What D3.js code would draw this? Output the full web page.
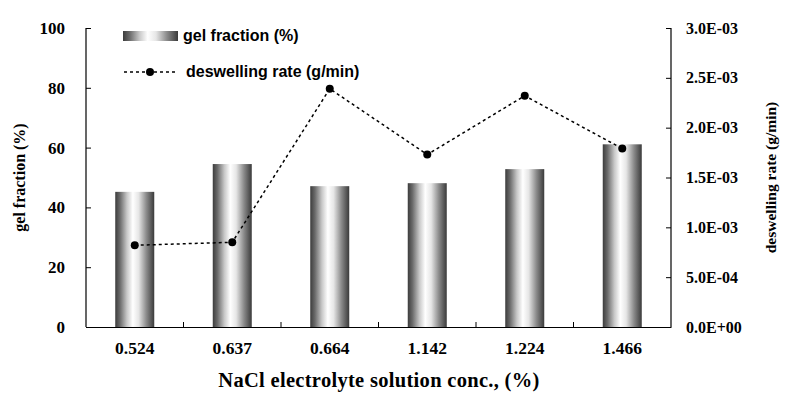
<!DOCTYPE html>
<html>
<head>
<meta charset="utf-8">
<script src="https://cdn.jsdelivr.net/npm/d3@7"></script>
<style>
  body { margin: 0; background: #fff; }
  svg text { fill: #000; }
</style>
</head>
<body>
<div id="chart"></div>
<script>
// data
const concentrations = ["0.524", "0.637", "0.664", "1.142", "1.224", "1.466"];
const gelFraction = [45.2, 54.5, 47.1, 48.1, 52.8, 61.1];
const deswellingRate = [0.00082, 0.00085, 0.00239, 0.00173, 0.00232, 0.00179];
const leftTicks = [0, 20, 40, 60, 80, 100];
const rightTicks = [0, 0.0005, 0.001, 0.0015, 0.002, 0.0025, 0.003];

const width = 807, height = 403;
const margin = { left: 86, right: 136, top: 28, bottom: 76 };
const serif = "'Liberation Serif', 'Times New Roman', serif";
const sans = "'Liberation Sans', Arial, sans-serif";

const svg = d3.select("#chart")
  .append("svg")
  .attr("width", width)
  .attr("height", height);

// Echelles
const xScale = d3.scaleBand()
  .domain(concentrations)
  .range([margin.left, width - margin.right]);

const yLeft = d3.scaleLinear()
  .domain([0, 100])
  .range([height - margin.bottom, margin.top]);

const yRight = d3.scaleLinear()
  .domain([0, 0.003])
  .range([height - margin.bottom, margin.top]);

// gradient des barres
const grad = svg.append("defs").append("linearGradient")
  .attr("id", "barGrad")
  .attr("x1", "0%").attr("x2", "100%")
  .attr("y1", "0%").attr("y2", "0%");
[[0, "#3c3c3c"], [0.12, "#6a6a6a"], [0.3, "#c8c8c8"], [0.45, "#ffffff"], [0.6, "#e6e6e6"], [0.8, "#8a8a8a"], [1, "#3a3a3a"]]
  .forEach(([o, c]) => grad.append("stop").attr("offset", o).attr("stop-color", c));

// Barres
const barW = 39;
svg.selectAll("rect.bar")
  .data(gelFraction)
  .enter().append("rect")
  .attr("class", "bar")
  .attr("x", (d, i) => xScale(concentrations[i]) + xScale.bandwidth() / 2 - barW / 2)
  .attr("y", d => yLeft(d))
  .attr("width", barW)
  .attr("height", d => yLeft(0) - yLeft(d))
  .attr("fill", "url(#barGrad)");

// Axes
const leftAxis = svg.append("g")
  .attr("transform", `translate(${margin.left},0)`)
  .call(d3.axisLeft(yLeft).tickValues(leftTicks).tickSize(-5).tickPadding(21));

const rightAxis = svg.append("g")
  .attr("transform", `translate(${width - margin.right},0)`)
  .call(d3.axisRight(yRight).tickValues(rightTicks).tickSize(-5).tickPadding(15)
    .tickFormat(d => {
      const [m, e] = d.toExponential(1).split("e");
      const n = Math.abs(+e);
      return m + "E" + (+e < 0 ? "-" : "+") + (n < 10 ? "0" : "") + n;
    }));

const bottomAxis = svg.append("g")
  .attr("transform", `translate(0,${height - margin.bottom})`)
  .call(d3.axisBottom(xScale).tickSize(0).tickPadding(15));

// petits traits entre les catégories
svg.append("g").selectAll("line")
  .data(concentrations.slice(1))
  .enter().append("line")
  .attr("x1", d => xScale(d)).attr("x2", d => xScale(d))
  .attr("y1", yLeft(0)).attr("y2", yLeft(0) - 5)
  .attr("stroke", "#000");

[leftAxis, rightAxis, bottomAxis].forEach(g => {
  g.select(".domain").attr("stroke", "#000").attr("stroke-width", 1.2);
  g.selectAll(".tick line").attr("stroke", "#000");
  g.selectAll("text")
    .style("font-family", serif)
    .style("font-weight", "bold")
    .attr("fill", "#000");
});
leftAxis.select(".domain").attr("d", `M0,${margin.top}V${yLeft(0)}`);
rightAxis.select(".domain").attr("d", `M0,${margin.top}V${yLeft(0)}`);
leftAxis.selectAll("text").style("font-size", "17px");
rightAxis.selectAll("text").style("font-size", "16px");
bottomAxis.selectAll("text").style("font-size", "17.5px");

// Ligne du taux de dégonflement
const line = d3.line()
  .x((d, i) => xScale(concentrations[i]) + xScale.bandwidth() / 2)
  .y(d => yRight(d));

svg.append("path")
  .datum(deswellingRate)
  .attr("d", line)
  .attr("fill", "none")
  .attr("stroke", "#000")
  .attr("stroke-width", 1.5)
  .attr("stroke-dasharray", "3,3");

svg.selectAll("circle.pt")
  .data(deswellingRate)
  .enter().append("circle")
  .attr("class", "pt")
  .attr("cx", (d, i) => xScale(concentrations[i]) + xScale.bandwidth() / 2)
  .attr("cy", d => yRight(d))
  .attr("r", 4)
  .attr("fill", "#000");

// Légendes des axes
svg.append("text")
  .attr("transform", "rotate(-90)")
  .attr("x", -(margin.top + yLeft(0)) / 2)
  .attr("y", 25)
  .attr("text-anchor", "middle")
  .style("font-family", serif)
  .style("font-weight", "bold")
  .style("font-size", "16px")
  .text("gel fraction (%)");

svg.append("text")
  .attr("transform", "rotate(-90)")
  .attr("x", -(margin.top + yLeft(0)) / 2)
  .attr("y", 776)
  .attr("text-anchor", "middle")
  .style("font-family", serif)
  .style("font-weight", "bold")
  .style("font-size", "15.5px")
  .text("deswelling rate (g/min)");

svg.append("text")
  .attr("x", 379)
  .attr("y", 387)
  .attr("text-anchor", "middle")
  .style("font-family", serif)
  .style("font-weight", "bold")
  .style("font-size", "20.5px")
  .style("letter-spacing", "0.3px")
  .text("NaCl electrolyte solution conc., (%)");

// Légende
const legend = svg.append("g");
legend.append("rect")
  .attr("x", 123).attr("y", 31)
  .attr("width", 55).attr("height", 10)
  .attr("fill", "url(#barGrad)");
legend.append("text")
  .attr("x", 183).attr("y", 41)
  .style("font-family", sans)
  .style("font-weight", "bold")
  .style("font-size", "16px")
  .text("gel fraction (%)");
legend.append("line")
  .attr("x1", 124).attr("x2", 178)
  .attr("y1", 72).attr("y2", 72)
  .attr("stroke", "#000")
  .attr("stroke-width", 1.5)
  .attr("stroke-dasharray", "3,3");
legend.append("circle")
  .attr("cx", 150).attr("cy", 72).attr("r", 4)
  .attr("fill", "#000");
legend.append("text")
  .attr("x", 186).attr("y", 77)
  .style("font-family", sans)
  .style("font-weight", "bold")
  .style("font-size", "16px")
  .text("deswelling rate (g/min)");
</script>
</body>
</html>
